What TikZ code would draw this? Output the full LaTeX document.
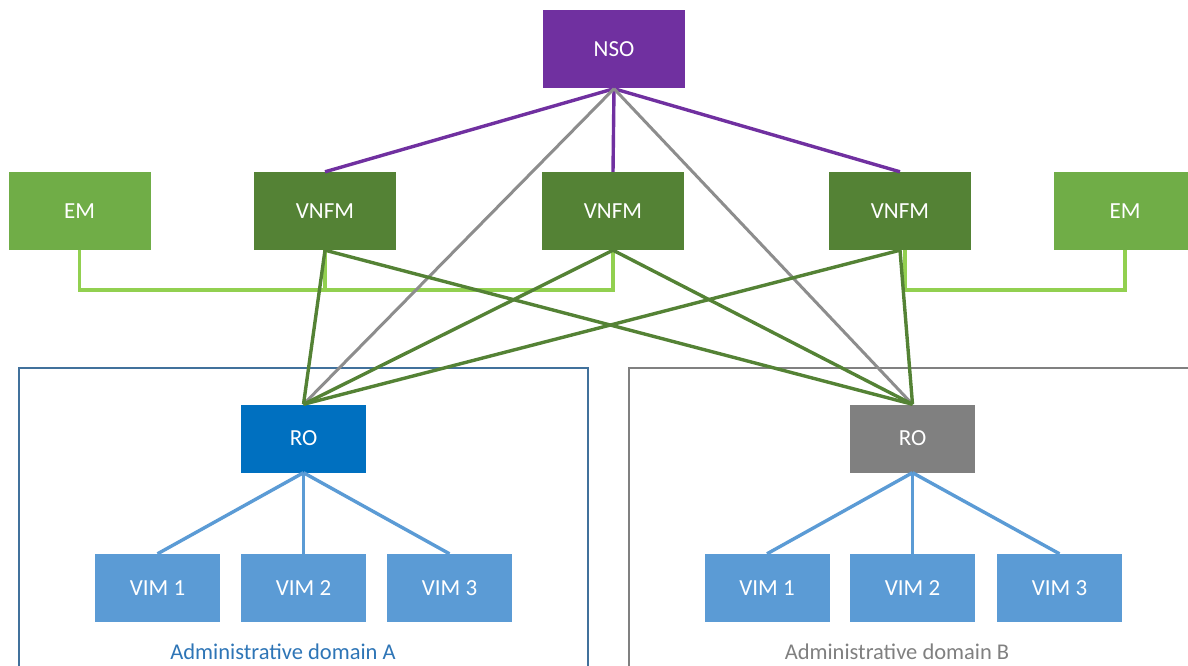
\documentclass[tikz,border=0pt]{standalone}
\usepackage{fontspec}
\setmainfont{Carlito}
\usepackage{tikz}
\usetikzlibrary{positioning}

\definecolor{nsopurple}{HTML}{7030A0}
\definecolor{emgreen}{HTML}{70AD47}
\definecolor{vnfmgreen}{HTML}{548235}
\definecolor{busgreen}{HTML}{92D050}
\definecolor{roblue}{HTML}{0070C0}
\definecolor{vimblue}{HTML}{5B9BD5}
\definecolor{domblue}{HTML}{41719C}
\definecolor{labblue}{HTML}{2E75B6}
\definecolor{rogray}{HTML}{808080}

\begin{document}
\begin{tikzpicture}[x=1pt, y=-1pt,
  box/.style={rectangle, inner sep=0pt, text=white, font=\fontsize{23}{27}\selectfont},
  top/.style={box, minimum width=142pt, minimum height=78pt},
  low/.style={box, minimum width=125pt, minimum height=68pt},
  link/.style={line width=3.4pt}]
  \useasboundingbox (0,0) rectangle (1188,666);
  \clip (0,0) rectangle (1188,666);

  \draw[domblue, line width=2.8pt] (19,690) |- (588,368) -- (588,690);
  \draw[rogray, line width=2.8pt] (629,690) |- (1210,368);

  \node[top, fill=nsopurple] (nso) at (614,49.5) {NSO};
  \node[top, fill=emgreen] (em1) at (79.5,211) {EM};
  \node[top, fill=vnfmgreen] (vnfm1) at (325,211) {VNFM};
  \node[top, fill=vnfmgreen] (vnfm2) at (613,211) {VNFM};
  \node[top, fill=vnfmgreen] (vnfm3) at (900,211) {VNFM};
  \node[top, fill=emgreen] (em2) at (1125,211) {EM};

  \node[low, fill=roblue] (ro1) at (303.5,438.5) {RO};
  \node[low, fill=rogray] (ro2) at (912.5,438.5) {RO};

  \node[low, fill=vimblue] (vim11) at (157.5,588) {VIM 1};
  \node[low, fill=vimblue] (vim12) at (303.5,588) {VIM 2};
  \node[low, fill=vimblue] (vim13) at (449.5,588) {VIM 3};
  \node[low, fill=vimblue] (vim21) at (767,588) {VIM 1};
  \node[low, fill=vimblue] (vim22) at (912.5,588) {VIM 2};
  \node[low, fill=vimblue] (vim23) at (1059.5,588) {VIM 3};

  \node[text=labblue, font=\fontsize{22.5}{26}\selectfont] (dom1) at (283,652) {Administrative domain A};
  \node[text=rogray, font=\fontsize{22.5}{26}\selectfont] (dom2) at (897,652) {Administrative domain B};

  \coordinate (bus) at (0,290);
  \draw[link, busgreen] (em1.south) -- (em1.south |- bus) -| (vnfm2.south);
  \draw[link, busgreen] (vnfm1.south) -- (vnfm1.south |- bus);
  \draw[link, busgreen] ([xshift=5pt]vnfm3.south) -- ([xshift=5pt]vnfm3.south |- bus) -| (em2.south);

  \path[link, nsopurple]
  (nso.south) edge (vnfm1.north)
              edge (vnfm2.north)
              edge (vnfm3.north);
  \path[line width=3pt, rogray!90]
  (nso.south) edge (ro1.north)
              edge (ro2.north);
  \path[link, vnfmgreen]
  (vnfm1.south) edge (ro1.north)
                edge (ro2.north)
  (vnfm2.south) edge (ro1.north)
                edge (ro2.north)
  (vnfm3.south) edge (ro1.north)
                edge (ro2.north);
  \path[link, vimblue]
  (ro1.south) edge (vim11.north)
              edge (vim12.north)
              edge (vim13.north)
  (ro2.south) edge (vim21.north)
              edge (vim22.north)
              edge (vim23.north);
\end{tikzpicture}
\end{document}
